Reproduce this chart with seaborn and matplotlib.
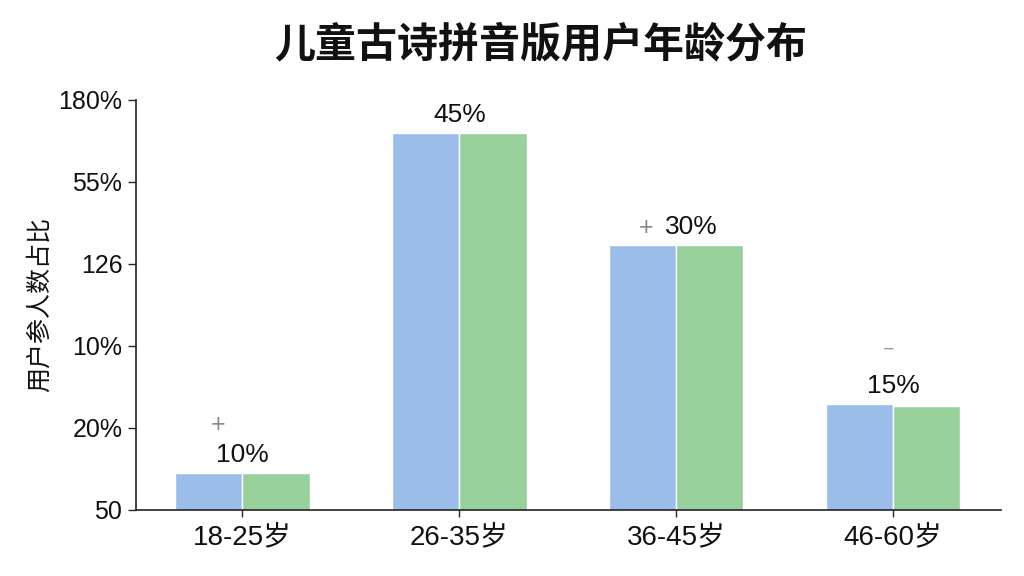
import numpy as np
import pandas as pd
import matplotlib
matplotlib.use("Agg")
import matplotlib.pyplot as plt
import seaborn as sns

# Age groups and the two bar series (heights)
categories = ["18-25岁", "26-35岁", "36-45岁", "46-60岁"]
series_a = [4.5, 46.0, 32.3, 12.9]
series_b = [4.5, 46.0, 32.3, 12.7]
bar_labels = ["10%", "45%", "30%", "15%"]
marks = ["+", "", "+", "−"]

# y axis as printed on the chart
y_ticks = [0, 10, 20, 30, 40, 50]
y_tick_labels = ["50", "20%", "10%", "126", "55%", "180%"]

df = pd.DataFrame({
    "age": categories * 2,
    "group": ["A"] * len(categories) + ["B"] * len(categories),
    "value": series_a + series_b,
})

sns.set_theme(style="white")
plt.rcParams["font.family"] = ["Liberation Sans", "Noto Sans CJK SC", "DejaVu Sans"]
plt.rcParams["axes.unicode_minus"] = False

fig = plt.figure(figsize=(10.24, 5.76), dpi=100)
ax = fig.add_axes([0.133, 0.1146, 0.845, 0.7118])

sns.barplot(data=df, x="age", y="value", hue="group",
            palette=["#9abde9", "#98d09c"], width=0.62, gap=0,
            edgecolor="white", linewidth=1, saturation=1, ax=ax, legend=False)

ax.set_xlim(-0.49, 3.5)
ax.set_ylim(0, 50)
ax.set_yticks(y_ticks)
ax.set_yticklabels(y_tick_labels, fontsize=18, color="#111111")
ax.set_xlabel("")
ax.set_ylabel("用户参人数占比", fontsize=18, labelpad=4, color="#111111",
              family=["Noto Sans CJK SC", "DejaVu Sans"])
ax.tick_params(axis="x", labelsize=20, labelcolor="#111111", direction="inout",
               length=10, width=1, pad=5, bottom=True)
ax.tick_params(axis="y", direction="out", length=6, width=1, pad=4, left=True)

sns.despine(ax=ax)
for s in ["left", "bottom"]:
    ax.spines[s].set_color("#222222")
    ax.spines[s].set_linewidth(1.2)

# value labels and the small +/- marks above the bars
label_shift = [0, 0, 15, 0]
for i, (lab, mk) in enumerate(zip(bar_labels, marks)):
    top = max(series_a[i], series_b[i])
    ax.annotate(lab, (i, top), xytext=(label_shift[i], 18), textcoords="offset pixels",
                ha="center", va="center", fontsize=19, color="#111111")
    if mk == "+" and i == 2:
        ax.annotate(mk, (i, top), xytext=(-30, 17), textcoords="offset pixels",
                    ha="center", va="center", fontsize=18, color="#888888")
    elif mk == "+":
        ax.annotate(mk, (i, top), xytext=(-24, 48), textcoords="offset pixels",
                    ha="center", va="center", fontsize=18, color="#888888")
    elif mk:
        ax.annotate(mk, (i, top), xytext=(-4, 54), textcoords="offset pixels",
                    ha="center", va="center", fontsize=14, color="#999999")

fig.suptitle("儿童古诗拼音版用户年龄分布", fontsize=29.5, fontweight="bold",
             x=0.528, y=0.96, family=["Noto Sans CJK SC", "DejaVu Sans"], color="#111111")

fig.savefig("out.png", dpi=100, facecolor="white")
